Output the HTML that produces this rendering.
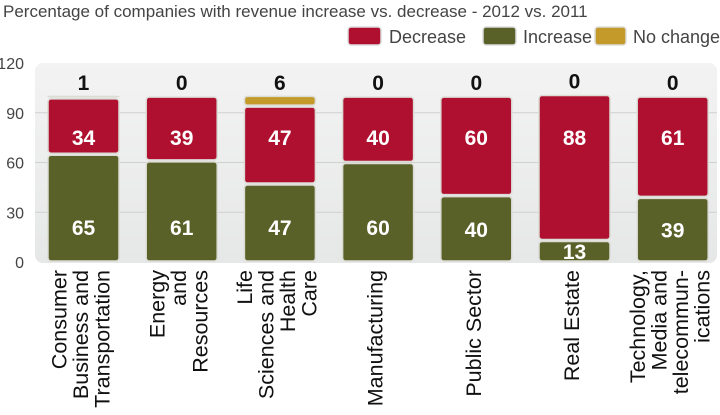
<!DOCTYPE html>
<html><head><meta charset="utf-8"><style>
body{margin:0;background:#fff;width:720px;height:410px;overflow:hidden;font-family:"Liberation Sans",sans-serif}
</style></head><body>
<svg id="chart" width="720" height="410" xmlns="http://www.w3.org/2000/svg" font-family="Liberation Sans, sans-serif">
<defs><linearGradient id="bg" x1="0" y1="0" x2="0" y2="1"><stop offset="0" stop-color="#f3f3f3"/><stop offset="1" stop-color="#e6e7e7"/></linearGradient></defs>
<text x="3" y="17" font-size="17" fill="#444">Percentage of companies with revenue increase vs. decrease - 2012 vs. 2011</text>
<g>
<rect x="348" y="27" width="33" height="18" rx="3" fill="#b01030" stroke="#ddd" stroke-width="1.5"/>
<text x="389" y="43" font-size="18" fill="#444">Decrease</text>
<rect x="483" y="27" width="33" height="18" rx="3" fill="#5a6128" stroke="#ddd" stroke-width="1.5"/>
<text x="523" y="43" font-size="18" fill="#444">Increase</text>
<rect x="595" y="27" width="31" height="18" rx="3" fill="#c49a2a" stroke="#ddd" stroke-width="1.5"/>
<text x="633" y="43" font-size="18" fill="#444">No change</text>
</g>
<rect x="35" y="63" width="682" height="200" rx="8" fill="url(#bg)"/>
<g id="grid"></g><g id="bars"></g><g id="labels"></g>
</svg>
<script>
const categories=[["Consumer","Business and","Transportation"],["Energy","and","Resources"],["Life","Sciences and","Health","Care"],["Manufacturing"],["Public Sector"],["Real Estate"],["Technology,","Media and","telecommun-","ications"]];
const increase=[65,61,47,60,40,13,39];
const decrease=[34,39,47,40,60,88,61];
const noChange=[1,0,6,0,0,0,0];
const ticks=[0,30,60,90,120];
const NS="http://www.w3.org/2000/svg";
const y=v=>262-v*(199/120);
const x0=i=>48+i*98.2, bw=71;
function mk(tag,attrs,parent,txt){const e=document.createElementNS(NS,tag);for(const k in attrs)e.setAttribute(k,attrs[k]);if(txt!==undefined)e.textContent=txt;parent.appendChild(e);return e;}
const grid=document.getElementById('grid'),bars=document.getElementById('bars'),labels=document.getElementById('labels');
ticks.forEach(t=>{
  if(t>0&&t<120){const l=mk('line',{x1:35,x2:717,y1:y(t),y2:y(t),stroke:'#cfd0d0','stroke-width':1},grid);
  
  }
  const tx=mk('text',{x:24,y:y(t)+6,'font-size':16,fill:'#444','text-anchor':'end'},grid,String(t));
  
  
});
function seg(i,v0,v1,color,name){
  if(v1<=v0)return;
  const r=mk('rect',{x:x0(i),y:y(v1)+1,width:bw,height:Math.max(0,y(v0)-y(v1)-2),rx:3,fill:color,stroke:'#dcdcd6','stroke-width':1.5},bars);
  
  
}
categories.forEach((c,i)=>{
  const inc=increase[i],dec=decrease[i],nc=noChange[i];
  seg(i,0,inc,'#5a6128','bar-increase');
  seg(i,inc,inc+dec,'#b01030','bar-decrease');
  seg(i,inc+dec,inc+dec+nc+(nc>0?0.5:0),'#c49a2a','bar-no-change');
  const cx=x0(i)+bw/2;
  const iy=Math.max(227,(y(0)+y(inc))/2);
  const t1=mk('text',{x:cx,y:iy+8,'font-size':21,'font-weight':'bold',fill:'#fff','text-anchor':'middle'},labels,String(inc));
  
  
  const dy=Math.min(Math.max(137,y(inc+dec)+18),y(inc)-12);
  const t2=mk('text',{x:cx,y:dy+8,'font-size':21,'font-weight':'bold',fill:'#fff','text-anchor':'middle'},labels,String(dec));
  
  
  const t3=mk('text',{x:cx,y:y(inc+dec+nc)-6,'font-size':21,'font-weight':'bold',fill:'#111','text-anchor':'middle'},labels,String(nc));
  
  
  const n=c.length, lh=21.5;
  c.forEach((line,j)=>{
    const lx=cx-3+(j-(n-1)/2)*lh+7.5;
    const t=mk('text',{x:0,y:0,'font-size':21.5,fill:'#111','text-anchor':'end',transform:`translate(${lx},270) rotate(-90)`},labels,line);
    
    
  });
});
</script>
</body></html>
